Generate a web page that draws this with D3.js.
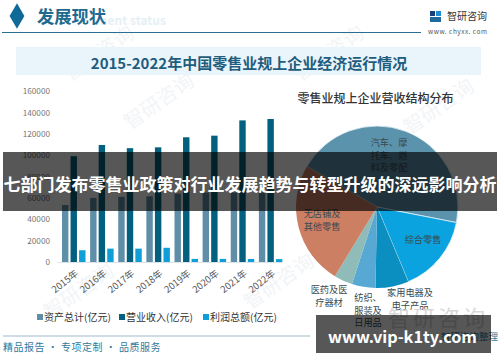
<!DOCTYPE html>
<html>
<head>
<meta charset="utf-8">
<script src="https://cdnjs.cloudflare.com/ajax/libs/d3/7.8.5/d3.min.js"></script>
<style>
    html, body { margin: 0; padding: 0; background: #fff; }
    svg { display: block; }
    text { font-family: "Noto Sans CJK SC", "Noto Sans", sans-serif; }
</style>
</head>
<body>
<div id="chart"></div>
<script>
/** DATA */
const years = ["2015年", "2016年", "2017年", "2018年", "2019年", "2020年", "2021年", "2022年"];
const seriesNames = ["资产总计(亿元)", "营业收入(亿元)", "利润总额(亿元)"];
const assets = [53300, 60000, 61000, 61500, 64000, 65000, 65000, 65000];
const revenue = [99000, 109500, 106500, 107300, 116700, 118200, 132500, 133800];
const profit = [11000, 12500, 12500, 13300, 2900, 2900, 2800, 2700];
const yTicks = [0, 20000, 40000, 60000, 80000, 100000, 120000, 140000, 160000];
const seriesColors = ["#5f8fa8", "#04607f", "#0f9fd8"];

const pieLines = [["汽车、摩", "托车、燃", "料及零配"], ["综合零售"], ["家用电器及", "电子产品"], ["纺织、", "服装及", "日用品"], ["医药及医", "疗器材"], ["无店铺及", "其他零售"]];
const pieValues = [44.7, 15.6, 6.6, 4.7, 3.7, 24.6];
const pieColors = ["#5b93ad", "#0ba3df", "#0b8fc0", "#57a8d2", "#8fbcb8", "#cd7f63"];

const width = 500, height = 362;
const svg = d3.select("#chart").append("svg").attr("width", width).attr("height", height);

// WATERMARK
const wm = svg.append("g").attr("fill", "#f2f5f7").attr("font-size", 20);
[[70, 82], [300, 82], [50, 320], [250, 310], [410, 135], [130, 130]].forEach(p => {
    wm.append("text").attr("transform", `translate(${p[0]},${p[1]}) rotate(-35)`).text("智研咨询");
});

// HEADER
svg.append("path").attr("transform", "translate(17,16)").attr("d", d3.symbol(d3.symbolDiamond, 190)()).attr("fill", "#0f6a9a");
svg.append("text").attr("x", 96).attr("y", 25).attr("font-size", 12).attr("font-weight", 700).attr("fill", "#e6eff4").text("ment status");
svg.append("text").attr("x", 37).attr("y", 23).attr("font-size", 17.3).attr("font-weight", 700).attr("fill", "#1f6a8e").text("发展现状");
svg.append("line").attr("x1", 2).attr("x2", 421).attr("y1", 32.5).attr("y2", 32.5).attr("stroke", "#2b6f90");
svg.append("rect").attr("x", 430).attr("y", 11).attr("width", 5).attr("height", 5).attr("fill", "#173f78");
svg.append("rect").attr("x", 436).attr("y", 11).attr("width", 5).attr("height", 5).attr("fill", "#1f8fcf");
svg.append("rect").attr("x", 430).attr("y", 17).attr("width", 11).attr("height", 5).attr("fill", "#1f6a9a");
svg.append("text").attr("x", 447).attr("y", 20).attr("font-size", 10).attr("fill", "#333").text("智研咨询");
svg.append("text").attr("x", 428).attr("y", 34).attr("font-size", 6.5).attr("font-family", "Liberation Serif").attr("letter-spacing", 0.5).attr("fill", "#555").text("www. chyxx. com");
svg.append("rect").attr("x", 16).attr("y", 47).attr("width", 465).attr("height", 28).attr("fill", "#e9f4fb");
svg.append("text").attr("x", 249).attr("y", 69).attr("text-anchor", "middle").attr("font-size", 15).attr("font-weight", 700).attr("font-family", "Liberation Serif, Noto Sans CJK SC").attr("fill", "#1f5d7e").text("2015-2022年中国零售业规上企业经济运行情况");

// BAR CHART
const y = d3.scaleLinear().domain([0, 160000]).range([262, 91]);
const x0 = d3.scaleBand().domain(years).range([57, 282]);
const x1 = d3.scaleBand().domain(seriesNames).range([5, 28.5]).paddingInner(0.25);

const yAxis = d3.axisLeft(y).tickValues(yTicks).tickSize(0).tickFormat(d3.format("d"));
svg.append("g").attr("transform", "translate(53,0)").call(yAxis)
    .call(g => g.select(".domain").remove())
    .selectAll("text").attr("font-size", 8.2).attr("fill", "#777");

[assets, revenue, profit].forEach((vals, s) => {
    svg.append("g").selectAll("rect").data(vals).join("rect")
        .attr("x", (d, i) => x0(years[i]) + x1(seriesNames[s]))
        .attr("width", x1.bandwidth())
        .attr("y", d => y(d))
        .attr("height", d => y(0) - y(d))
        .attr("fill", seriesColors[s]);
});

const xAxis = d3.axisBottom(x0).tickSize(0);
svg.append("g").attr("transform", "translate(0,262)").call(xAxis)
    .call(g => g.select(".domain").attr("stroke", "#dde3e6"))
    .selectAll("text").attr("font-size", 9.5).attr("fill", "#555")
    .attr("text-anchor", "end").attr("x", 0).attr("y", 0).attr("dy", "0.35em")
    .attr("transform", "translate(6,10) rotate(-38)");

// LEGEND
const legendX = [37, 119, 203];
seriesNames.forEach((n, i) => {
    svg.append("rect").attr("x", legendX[i]).attr("y", 314).attr("width", 6).attr("height", 6).attr("fill", seriesColors[i]);
    svg.append("text").attr("x", legendX[i] + 7).attr("y", 321).attr("font-size", 10).attr("fill", "#333").text(n);
});

// PIE
svg.append("text").attr("x", 375.5).attr("y", 103).attr("text-anchor", "middle").attr("font-size", 12).attr("font-weight", 500).attr("fill", "#333").text("零售业规上企业营收结构分布");

const pie = d3.pie().sort(null).startAngle(-60 * Math.PI / 180).endAngle(300 * Math.PI / 180);
const arc = d3.arc().innerRadius(0).outerRadius(81);
const arcs = pie(pieValues);
const pieG = svg.append("g").attr("transform", "translate(377,207)");
pieG.selectAll("path").data(arcs).join("path")
    .attr("d", arc)
    .attr("fill", (d, i) => pieColors[i])
    .attr("stroke", (d, i) => i < 2 ? "#e6f2f6" : "none")
    .attr("stroke-width", 0.8);

// label anchors relative to the pie centre, same order as pieLines
const labelX = [12, 46, 33, -9, -48, -55];
const labelY = [-61, 36, 89, 94, 86, 10];
const labelG = pieG.append("g").attr("font-size", 9.2).attr("fill", "#3a4a50").attr("text-anchor", "middle");
pieLines.forEach((lines, i) => {
    lines.forEach((t, k) => {
        labelG.append("text")
            .attr("x", labelX[i])
            .attr("y", labelY[i] + k * 12.5)
            .text(t);
    });
});

// FOOTER
svg.append("line").attr("x1", 3).attr("x2", 310).attr("y1", 336).attr("y2", 336).attr("stroke", "#9dbccb").attr("stroke-width", 1.2);
svg.append("text").attr("x", 3).attr("y", 351).attr("font-size", 10).attr("letter-spacing", 0.5).attr("fill", "#2f7a9c").text("精品报告 · 专项定制 · 品质服务");
svg.append("text").attr("x", 388).attr("y", 326).attr("font-size", 22).attr("letter-spacing", 3).attr("fill", "#d8d8d8").text("智研咨询");
svg.append("text").attr("x", 498).attr("y", 340).attr("text-anchor", "end").attr("font-size", 9.5).attr("fill", "#2f7a9c").text("智研咨询整理");

// OVERLAYS
svg.append("rect").attr("x", 3).attr("y", 152).attr("width", 494).attr("height", 59).attr("fill", "rgba(0,0,0,0.66)");
svg.append("text").attr("x", 250).attr("y", 191).attr("text-anchor", "middle").attr("font-size", 17).attr("font-weight", 700).attr("fill", "#fff").text("七部门发布零售业政策对行业发展趋势与转型升级的深远影响分析");
svg.append("rect").attr("x", 316).attr("y", 315).attr("width", 175).attr("height", 38).attr("fill", "rgba(0,0,0,0.66)");
svg.append("text").attr("x", 402.5).attr("y", 343).attr("text-anchor", "middle").attr("font-size", 16.2).attr("font-weight", 700).attr("font-family", "DejaVu Sans").attr("fill", "#fff").text("www.vip-k1ty.com");
</script>
</body>
</html>
